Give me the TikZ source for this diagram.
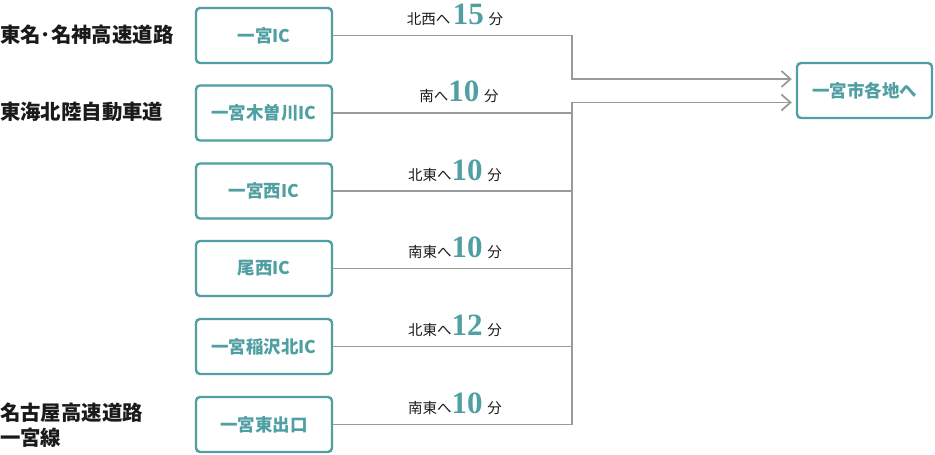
\documentclass[tikz,border=0pt]{standalone}
\usepackage{fontspec}
\usetikzlibrary{arrows.meta,calc}
\newfontfamily\jp{Noto Sans CJK JP}
\newfontfamily\numf{Liberation Serif}
\definecolor{teal1}{HTML}{4F9FA3}
\definecolor{line1}{HTML}{9A9A9A}
\definecolor{ink}{HTML}{1A1A1A}
\tikzset{
  icbox/.style={draw=teal1, line width=2.4pt, rounded corners=4pt, fill=white,
    minimum width=136pt, minimum height=55pt, inner sep=0pt,
    font=\jp\bfseries\fontsize{17.5}{20}\selectfont, text=teal1},
  conn/.style={draw=line1, line width=1.8pt},
  arr/.style={conn, -{Straight Barb[length=9pt,width=16pt,line width=1.8pt]}, shorten >=4pt},
  road/.style={anchor=west, inner sep=0pt, font=\jp\bfseries\fontsize{20.4}{25}\selectfont, text=ink, align=left},
  lab/.style={anchor=base, inner sep=0pt, font=\jp\fontsize{14.5}{16}\selectfont, text=ink},
}
\newcommand{\tnum}[1]{{\numf\bfseries\fontsize{31}{31}\selectfont\color{teal1}#1}}
\begin{document}
\begin{tikzpicture}[x=1pt,y=-1pt]
\useasboundingbox (0,0) rectangle (935,455);
% road names
\node[road] (r1) at (0,35) {東名･名神高速道路};
\node[road] (r2) at (0,112) {東海北陸自動車道};
\node[road] (r3) at (0,425.5) {名古屋高速道路\\一宮線};
% boxes
\node[icbox] (b1) at (264,35.5) {一宮IC};
\node[icbox] (b2) at (264,113) {一宮木曽川IC};
\node[icbox] (b3) at (264,191) {一宮西IC};
\node[icbox] (b4) at (264,268.5) {尾西IC};
\node[icbox] (b5) at (264,346.5) {一宮稲沢北IC};
\node[icbox] (b6) at (264,424.5) {一宮東出口};
\node[icbox, minimum width=135pt] (d) at (864.5,90.5) {一宮市各地へ};
% trunk
\coordinate (j) at (572,0);
% connectors
\draw[arr] (b1.east) -- (b1.east -| j) |- ([yshift=11.5pt]d.west);
\draw[arr] (b6.east) -- (b6.east -| j) |- ([yshift=-12pt]d.west);
\draw[conn] (b2.east) -- (b2.east -| j);
\draw[conn] (b3.east) -- (b3.east -| j);
\draw[conn] (b4.east) -- (b4.east -| j);
\draw[conn] (b5.east) -- (b5.east -| j);
% labels
\node[lab] (l1) at (455,24) {北西へ\,\tnum{15}\,\,分};
\node[lab] (l2) at (459,101.5) {南へ\tnum{10}\,\,分};
\node[lab] (l3) at (455,180) {北東へ\tnum{10}\,\,分};
\node[lab] (l4) at (455,257.5) {南東へ\tnum{10}\,\,分};
\node[lab] (l5) at (455,335.5) {北東へ\tnum{12}\,\,分};
\node[lab] (l6) at (455,413.5) {南東へ\tnum{10}\,\,分};
\end{tikzpicture}
\end{document}
